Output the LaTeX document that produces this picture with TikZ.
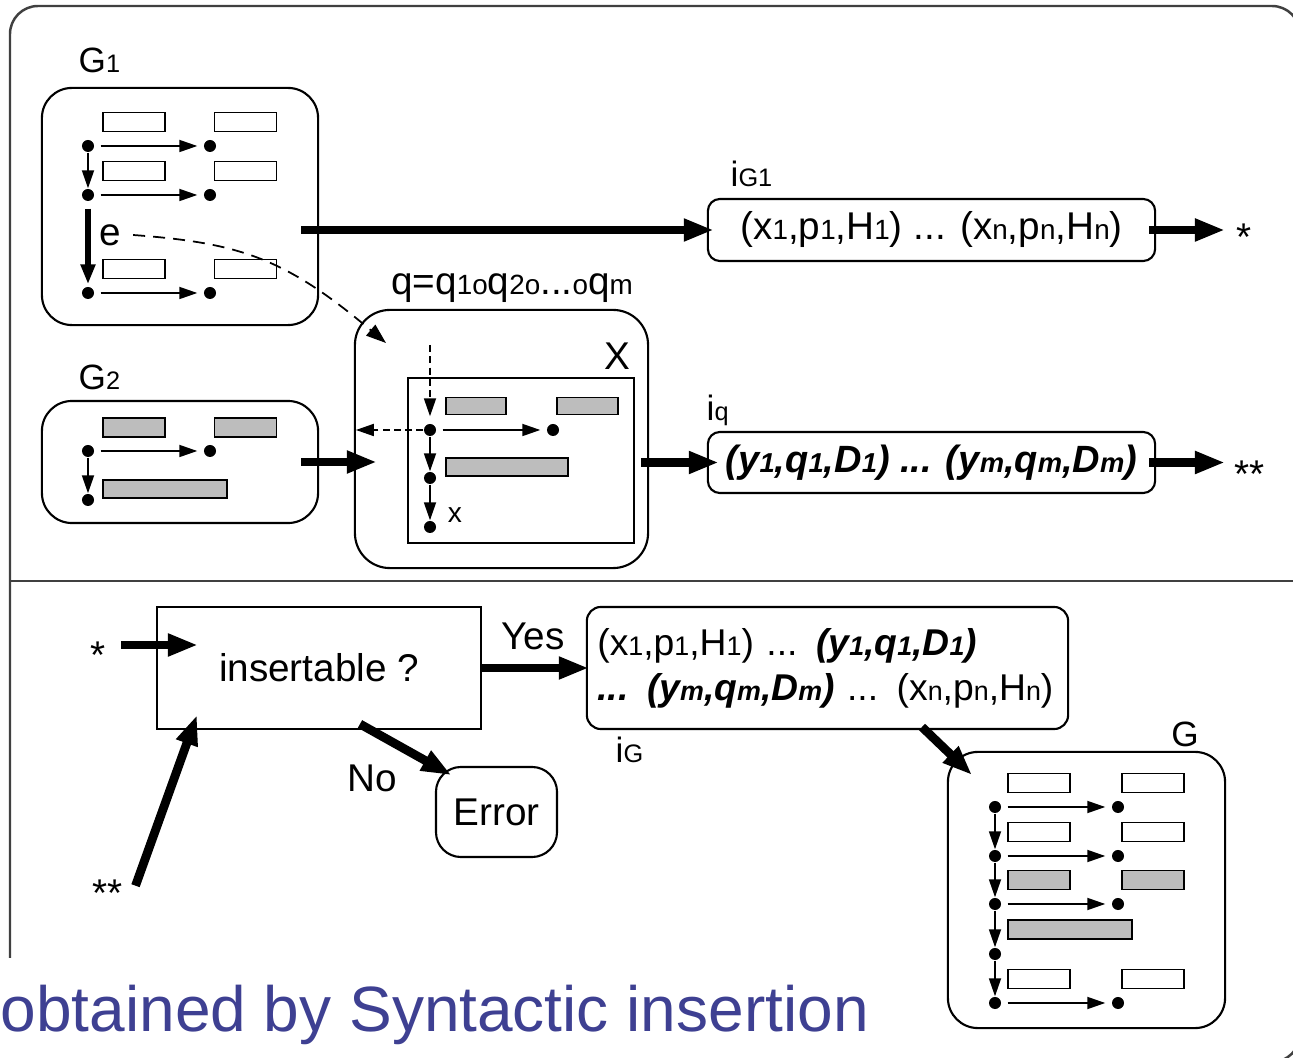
\documentclass[tikz,border=0pt]{standalone}
\usepackage{fontspec}
\setmainfont{Liberation Sans}
\usetikzlibrary{arrows.meta}

\definecolor{recgrey}{RGB}{189,189,189}
\definecolor{titleblue}{RGB}{62,64,146}

\newcommand{\low}[1]{\scalebox{0.72}{#1}}
\newcommand{\bi}[1]{\textbf{\textit{#1}}}

\begin{document}
\begin{tikzpicture}[
x=0.01cm, y=-0.01cm,
gbox/.style={
    draw,
    rounded corners=0.3cm,
    line width=0.6pt},
tbox/.style={
    draw,
    rounded corners=0.12cm,
    line width=0.6pt,
    font=\fontsize{11}{12.8}\selectfont},
rec/.style={
    draw,
    line width=0.5pt,
    minimum width=0.62cm,
    minimum height=0.19cm,
    inner sep=0pt},
grec/.style={rec, fill=recgrey},
dot/.style={circle, fill, inner sep=0pt, minimum size=0.12cm},
hthin/.style={-{Triangle[length=1.8mm,width=1.2mm]}, line width=0.5pt,
    shorten <=0.06cm, shorten >=0.06cm},
vthin/.style={-{Triangle[length=1.8mm,width=1.2mm]}, line width=0.5pt},
fat/.style={-{Triangle[length=3mm,width=2.1mm]}, line width=2.5pt},
lbl/.style={font=\fontsize{10}{12}\selectfont},
txt/.style={font=\fontsize{11}{13}\selectfont}
]

\useasboundingbox (0,0) rectangle (1293,1058);

% frame of the slide
\draw[line width=0.7pt, black!75, rounded corners=0.28cm] (10,6) rectangle (1300,1062);
\draw[line width=0.7pt, black!75] (10,581) -- (1300,581);

%%% G1
\node at (180,206.5) [gbox, minimum width=2.76cm, minimum height=2.37cm] (g1) {};
\node at (78,73) [lbl, anchor=base west, inner sep=0pt] (g1lbl) {G\low{1}};
\foreach \i/\y in {1/146, 2/195, 3/293} {
    \node at (88,\y) [dot] (g1l\i) {};
    \node at (210,\y) [dot] (g1r\i) {};
    \node at (134,\y-24) [rec] (g1p\i) {};
    \node at (245.5,\y-24) [rec] (g1q\i) {};
    \draw[hthin] (g1l\i) -- (g1r\i);
}
\draw[vthin] (g1l1) -- (g1l2);
\draw[-{Triangle[length=2mm,width=1.4mm]}, line width=1.8pt,
    shorten <=0.07cm, shorten >=0.02cm] (g1l2) -- (g1l3);
\node at (110,235) [txt] (elbl) {e};

%%% G2
\node at (180,462) [gbox, minimum width=2.76cm, minimum height=1.22cm] (g2) {};
\node at (78,390) [lbl, anchor=base west, inner sep=0pt] (g2lbl) {G\low{2}};
\node at (88,451) [dot] (g2l1) {};
\node at (210,451) [dot] (g2r1) {};
\node at (88,500) [dot] (g2l2) {};
\node at (134,427.5) [grec] (g2p1) {};
\node at (245.5,427.5) [grec] (g2q1) {};
\node at (165,489) [grec, minimum width=1.24cm, minimum height=0.18cm] (g2p2) {};
\draw[hthin] (g2l1) -- (g2r1);
\draw[vthin] (g2l1) -- (g2l2);

%%% q and X
\node at (501.5,439) [gbox, rounded corners=0.35cm, minimum width=2.93cm, minimum height=2.58cm] (q) {};
\node at (512,288) [txt] (qlbl) {q=q\low{1}\low{o}q\low{2}\low{o}...\low{o}q\low{m}};
\node at (617,356) [txt] (xlbl) {X};
\node at (521,460.5) [draw, line width=0.6pt, minimum width=2.26cm, minimum height=1.65cm] (xin) {};
\node at (430,430) [dot] (qd1) {};
\node at (553,430) [dot] (qr1) {};
\node at (430,478) [dot] (qd2) {};
\node at (430,527) [dot] (qd3) {};
\node at (476,406) [grec, minimum width=0.6cm, minimum height=0.17cm] (qp1) {};
\node at (587.5,406) [grec, minimum width=0.61cm, minimum height=0.17cm] (qq1) {};
\node at (507,467) [grec, minimum width=1.22cm, minimum height=0.18cm] (qp2) {};
\node at (455,515) [font=\fontsize{8}{9}\selectfont] (xvar) {x};
\coordinate (qtop) at (430,345);
\draw[vthin, dash pattern=on 2pt off 1.2pt, shorten >=0.07cm] (qtop) -- (qd1);
\draw[vthin, dash pattern=on 2pt off 1.2pt, shorten >=0.02cm] (qd1) -- (qd1 -| q.west);
\draw[hthin] (qd1) -- (qr1);
\draw[vthin] (qd1) -- (qd2);
\draw[vthin] (qd2) -- (qd3);

% e is mapped into q
\coordinate (etip) at (386,343);
\draw[-{Triangle[length=2mm,width=1.4mm]}, line width=0.5pt, dash pattern=on 3.4pt off 2.3pt]
    (elbl.east) .. controls (240,243) and (285,258) .. (etip);

%%% interpretations
\node at (931.5,230) [tbox, minimum width=4.47cm, minimum height=0.62cm] (ig1)
    {(x\low{1},p\low{1},H\low{1}) ... (x\low{n},p\low{n},H\low{n})};
\node at (730,187) [lbl, anchor=base west, inner sep=0pt] (ig1lbl) {i\low{G1}};
\node at (931.5,462.5) [tbox, minimum width=4.47cm, minimum height=0.61cm, font=\fontsize{10.8}{12.8}\selectfont] (iq)
    {\bi{(y\low{1},q\low{1},D\low{1}) ... (y\low{m},q\low{m},D\low{m})}};
\node at (706,421) [lbl, anchor=base west, inner sep=0pt] (iqlbl) {i\low{q}};
\node at (1236,251) [txt, anchor=base west, inner sep=0pt] (st1) {*};
\node at (1234,488) [txt, anchor=base west, inner sep=0pt] (st2) {**};

\draw[fat, shorten <=-0.18cm, shorten >=-0.07cm] (g1.east |- ig1.west) -- (ig1.west);
\draw[fat, shorten <=-0.07cm, shorten >=0.11cm] (ig1.east) -- (ig1.east -| st1.west);
\draw[fat, shorten <=-0.18cm, shorten >=-0.23cm] (g2.east) -- (g2.east -| q.west);
\draw[fat, shorten <=-0.08cm, shorten >=-0.12cm] (q.east |- iq.west) -- (iq.west);
\draw[fat, shorten <=-0.07cm, shorten >=0.09cm] (iq.east) -- (iq.east -| st2.west);

%%% insertion test
\node at (319,668) [draw, line width=0.6pt, minimum width=3.24cm, minimum height=1.22cm, txt] (ins) {insertable ?};
\node at (90,669) [txt, anchor=base west, inner sep=0pt] (st3) {*};
\node at (92,907) [txt, anchor=base west, inner sep=0pt] (st4) {**};
\coordinate (in1) at (198,645);
\coordinate (in2) at (197,715);
\draw[fat, shorten <=0.15cm] (st3.east |- in1) -- (in1);
\draw[fat] ([xshift=0.12cm, yshift=0.08cm]st4.east) -- (in2);

\node at (827.5,668) [tbox, rounded corners=0.14cm, minimum width=4.81cm, minimum height=1.22cm,
    text width=4.6cm, align=left, inner xsep=0.1cm, font=\fontsize{10.6}{12.8}\selectfont] (ige)
    {(x\low{1},p\low{1},H\low{1}) ... \bi{(y\low{1},q\low{1},D\low{1})}\\
     \bi{... (y\low{m},q\low{m},D\low{m})} ... (x\low{n},p\low{n},H\low{n})};
\node at (615,763) [lbl, anchor=base west, inner sep=0pt] (igelbl) {i\low{G}};
\node at (533,636) [txt] (yes) {Yes};
\draw[fat, shorten >=-0.03cm] (ins) -- (ige);

\node at (496.5,812) [draw, line width=0.6pt, rounded corners=0.25cm, minimum width=1.21cm, minimum height=0.9cm, txt] (err) {Error};
\node at (372,778) [txt] (no) {No};
\coordinate (nout) at (360,724);
\draw[fat, shorten >=-0.19cm] (nout) -- (err.north west);

%%% G
\node at (1086.5,890) [gbox, minimum width=2.77cm, minimum height=2.76cm] (gg) {};
\node at (1185,747) [lbl, anchor=base, inner sep=0pt] (gglbl) {G};
\foreach \i/\y/\c in {1/807/white, 2/856/white, 3/904/recgrey, 5/1003/white} {
    \node at (995,\y) [dot] (ggl\i) {};
    \node at (1118,\y) [dot] (ggr\i) {};
    \node at (1039,\y-24) [rec, fill=\c] (ggp\i) {};
    \node at (1153,\y-24) [rec, fill=\c] (ggq\i) {};
    \draw[hthin] (ggl\i) -- (ggr\i);
}
\node at (995,954) [dot] (ggl4) {};
\node at (1070,929.5) [grec, minimum width=1.24cm, minimum height=0.19cm] (ggp4) {};
\foreach \i/\j in {1/2, 2/3, 3/4, 4/5}
    \draw[vthin] (ggl\i) -- (ggl\j);
\coordinate (gin) at (922,727);
\draw[fat, shorten >=-0.35cm] (gin) -- (gg.north west);

% caption of the slide
\node at (0,1032) [anchor=base west, inner xsep=0pt, inner ysep=3pt, text height=18pt, text depth=10pt, fill=white,
    text=titleblue, font=\fontsize{18.2}{22}\selectfont] (title) {obtained by Syntactic insertion};

\end{tikzpicture}
\end{document}
